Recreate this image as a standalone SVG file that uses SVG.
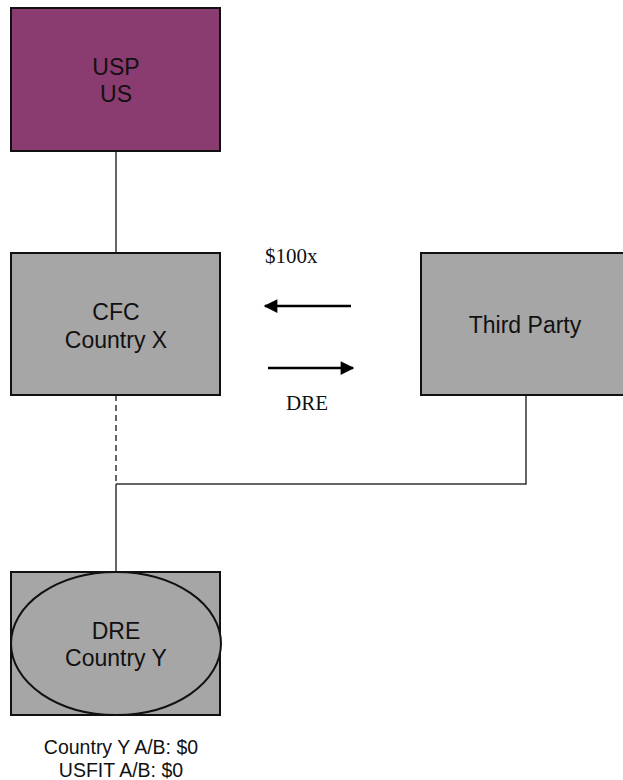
<svg xmlns="http://www.w3.org/2000/svg" width="623" height="780" viewBox="0 0 623 780">
  <style>
    .box { stroke: #111; stroke-width: 2; }
    .gray { fill: #a6a6a6; }
    .purple { fill: #8a3b6f; }
    .lbl { font-family: "Liberation Sans", Arial, sans-serif; font-size: 23px; fill: #111; text-anchor: middle; }
    .note { font-family: "Liberation Sans", Arial, sans-serif; font-size: 19.5px; fill: #111; text-anchor: middle; }
    .flow { font-family: "Liberation Serif", "Times New Roman", serif; font-size: 21px; fill: #111; }
    .wire { stroke: #333; stroke-width: 1.5; fill: none; }
    .arrow { stroke: #000; stroke-width: 2.5; fill: none; }
  </style>
  <defs>
    <marker id="head" viewBox="0 0 10 10" refX="9" refY="5" markerWidth="6" markerHeight="5.5" orient="auto" markerUnits="strokeWidth">
      <path d="M0,0 L10,5 L0,10 Z" fill="#000"/>
    </marker>
  </defs>
  <rect width="623" height="780" fill="#fff"/>

  <g id="connectors">
    <line class="wire" x1="116" y1="151" x2="116" y2="253"/>
    <line class="wire" x1="116" y1="395" x2="116" y2="484" stroke-dasharray="6,4"/>
    <line class="wire" x1="116" y1="484" x2="116" y2="572"/>
    <polyline class="wire" points="116,484 526,484 526,395"/>
    <line class="arrow" x1="351" y1="306" x2="265" y2="306" marker-end="url(#head)"/>
    <line class="arrow" x1="268" y1="368" x2="353" y2="368" marker-end="url(#head)"/>
    <text class="flow" x="265" y="263">$100x</text>
    <text class="flow" x="286" y="410">DRE</text>
  </g>

  <g id="usp">
    <rect class="box purple" x="11" y="8" width="209" height="143"/>
    <text class="lbl" x="116" y="75">USP</text>
    <text class="lbl" x="116" y="102">US</text>
  </g>

  <g id="cfc">
    <rect class="box gray" x="11" y="253" width="209" height="142"/>
    <text class="lbl" x="116" y="320">CFC</text>
    <text class="lbl" x="116" y="348">Country X</text>
  </g>

  <g id="third-party">
    <rect class="box gray" x="421" y="253" width="209" height="142"/>
    <text class="lbl" x="525" y="333">Third Party</text>
  </g>

  <g id="dre">
    <rect class="box gray" x="11" y="572" width="209" height="143"/>
    <ellipse class="box gray" cx="116" cy="643.5" rx="105" ry="71.5"/>
    <text class="lbl" x="116" y="639">DRE</text>
    <text class="lbl" x="116" y="666">Country Y</text>
  </g>

  <g id="dre-notes">
    <text class="note" x="121" y="754">Country Y A/B: $0</text>
    <text class="note" x="121" y="777">USFIT A/B: $0</text>
  </g>
</svg>
